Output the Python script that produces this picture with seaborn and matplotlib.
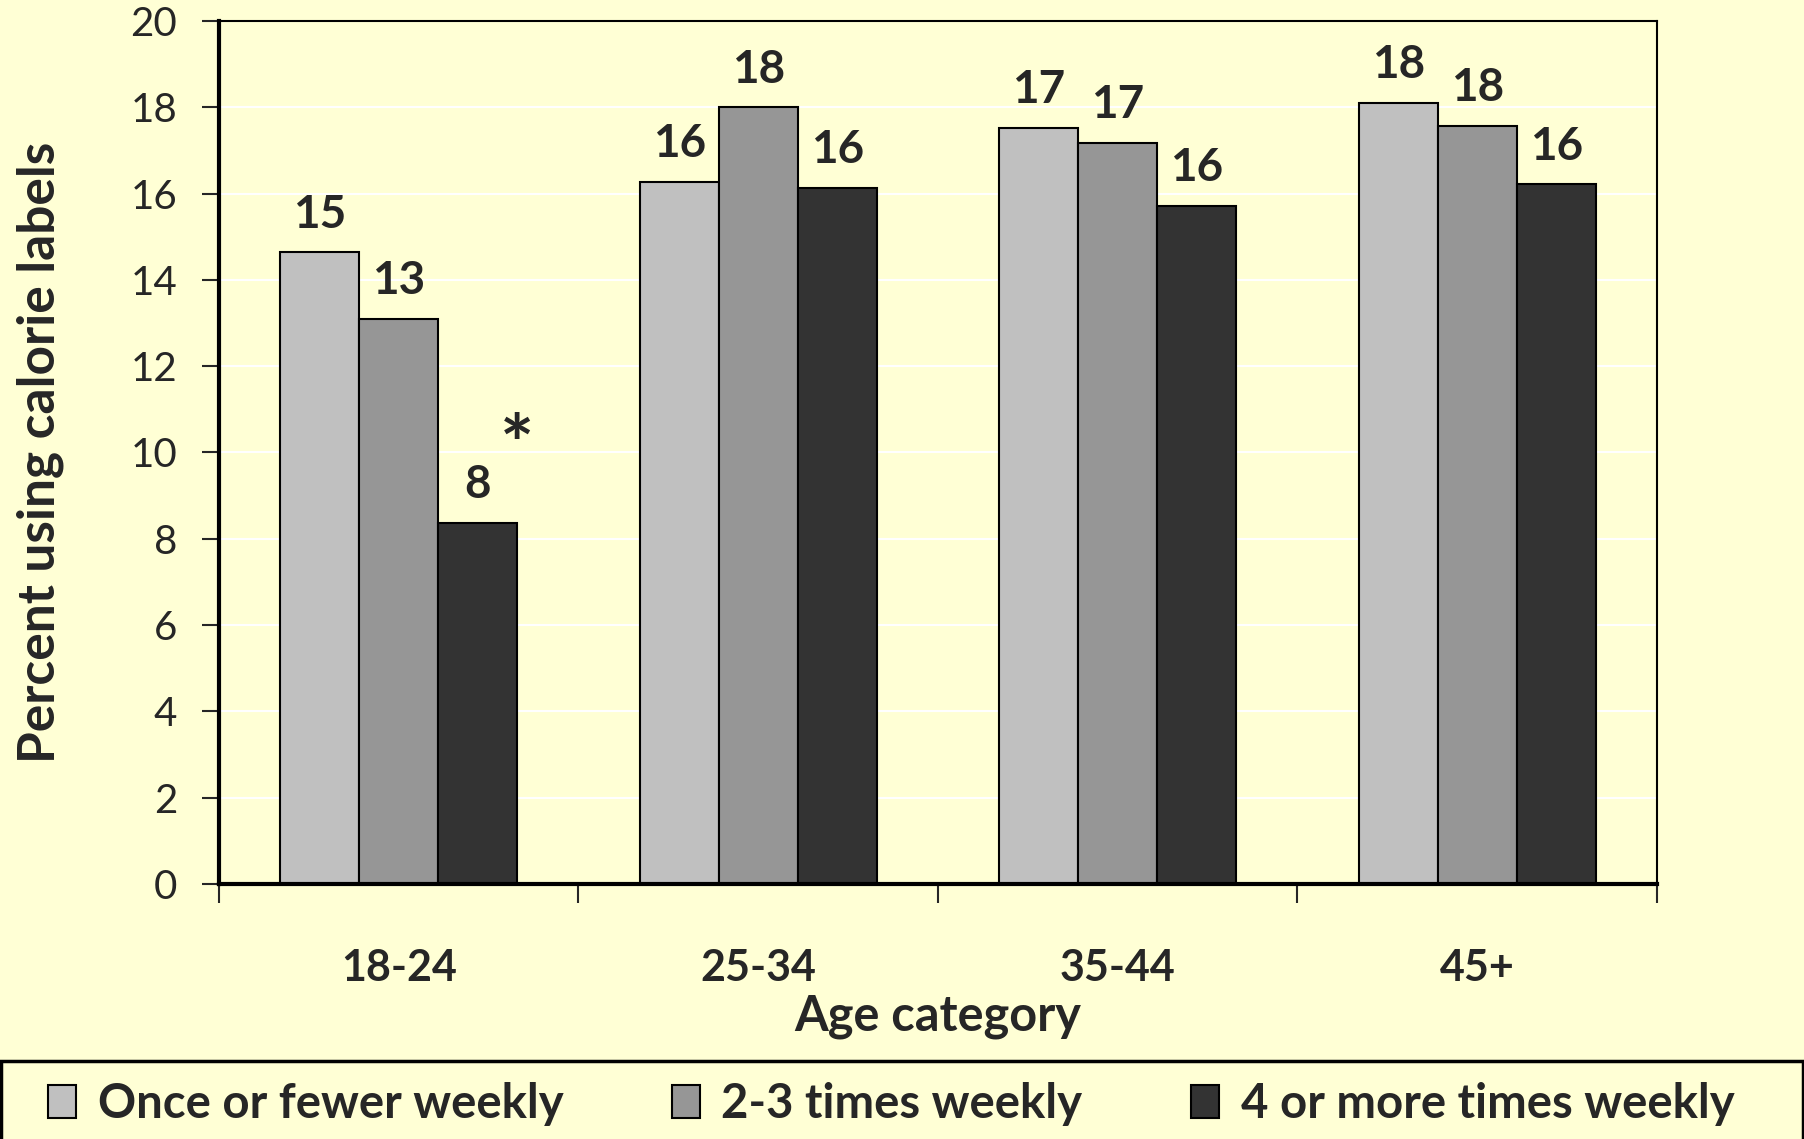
import pandas as pd
import seaborn as sns
import matplotlib.pyplot as plt
from matplotlib.patches import Patch, Rectangle

# valores
idades = ["18-24", "25-34", "35-44", "45+"]
frequencias = ["Once or fewer weekly", "2-3 times weekly", "4 or more times weekly"]
uma_vez = [14.64, 16.27, 17.52, 18.11]
duas_tres = [13.09, 18.0, 17.17, 17.57]
quatro_mais = [8.37, 16.13, 15.71, 16.21]
rotulos = [[15, 16, 17, 18], [13, 18, 17, 18], [8, 16, 16, 16]]
cores = ["#C0C0C0", "#969696", "#333333"]
fundo = "#FFFFD5"

df = pd.DataFrame({
    "idade": idades * 3,
    "freq": [frequencias[0]] * 4 + [frequencias[1]] * 4 + [frequencias[2]] * 4,
    "pct": uma_vez + duas_tres + quatro_mais,
})

sns.set_theme(style="white")
plt.rcParams["font.family"] = ["Lato", "DejaVu Sans"]

fig = plt.figure(figsize=(18.04, 11.39), dpi=100, facecolor=fundo)
ax = fig.add_axes([0.1214, 0.2239, 0.7971, 0.7577])
ax.set_facecolor(fundo)

sns.barplot(
    data=df, x="idade", y="pct", hue="freq",
    order=idades, hue_order=frequencias,
    palette=cores, width=0.66, edgecolor="black", linewidth=1.5,
    saturation=1, ax=ax, legend=False,
)

ax.set_ylim(0, 20)
ax.set_xlim(-0.5, 3.5)
ax.set_yticks(range(0, 21, 2))
ax.yaxis.grid(True, color="white", linewidth=1.5)
ax.set_axisbelow(True)

for lado in ["top", "right"]:
    ax.spines[lado].set_color("black")
    ax.spines[lado].set_linewidth(1.5)
for lado in ["left", "bottom"]:
    ax.spines[lado].set_color("black")
    ax.spines[lado].set_linewidth(3)

ax.tick_params(axis="y", direction="out", length=12, width=1.5, labelsize=29, pad=18, left=True)
ax.set_xticks(range(len(idades)))
ax.set_xticklabels(idades, fontsize=31, fontweight="bold")
ax.set_xticks([-0.5, 0.5, 1.5, 2.5, 3.5], minor=True)
ax.tick_params(axis="x", which="major", length=0, pad=46)
ax.tick_params(axis="x", which="minor", direction="out", length=14, width=1.5, bottom=True)

ax.set_ylabel("Percent using calorie labels", fontsize=37, fontweight="bold")
ax.yaxis.set_label_coords(-0.108, 0.5)
ax.set_xlabel("Age category", fontsize=35, fontweight="bold")
ax.xaxis.set_label_coords(0.5, -0.128)

# rótulos nas barras
barras = [p for p in ax.patches if p.get_height() > 0]
for i, p in enumerate(barras):
    serie, grupo = divmod(i, 4)
    ax.annotate(f"{rotulos[serie][grupo]}",
                (p.get_x() + p.get_width() / 2., p.get_height()),
                ha="center", va="bottom", fontsize=33, fontweight="bold",
                xytext=(0, 12), textcoords="offset points")

# asterisco no 18-24, 4+ vezes
p = barras[8]
ax.annotate("*", (p.get_x() + p.get_width(), p.get_height()),
            ha="center", va="bottom", fontsize=58, fontweight="bold",
            xytext=(0, 26), textcoords="offset points")

# legenda embaixo, com caixa de largura total
fig.patches.append(Rectangle((0.0008, -0.01), 0.9984, 0.0685 + 0.01, transform=fig.transFigure,
                             facecolor=fundo, edgecolor="black", linewidth=2.5, zorder=0))
handles = [Patch(facecolor=c, edgecolor="black", linewidth=1.5) for c in cores]
leg = fig.legend(handles, frequencias, loc="center", ncol=3,
                 bbox_to_anchor=(0.494, 0.031),
                 fontsize=34, frameon=False,
                 handlelength=0.6, handleheight=0.7, handletextpad=0.45,
                 columnspacing=2.3, borderaxespad=0)
for t in leg.get_texts():
    t.set_fontweight("bold")

plt.savefig("out.png", dpi=100, facecolor=fundo)
